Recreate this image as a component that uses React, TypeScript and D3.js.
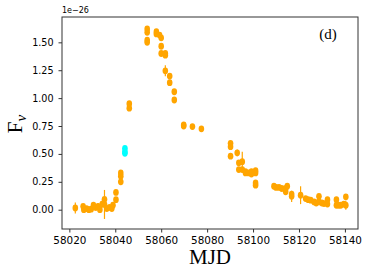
import React, { useEffect, useRef } from 'react';
import * as d3 from 'd3';

// orange points: MJD, flux (1e-26), error
const mjd = [
  58022.6, 58026.0, 58026.3, 58027.5, 58028.5, 58029.5, 58030.5, 58031.5, 58032.5, 58033.3,
  58034.3, 58035.3, 58035.3, 58036.3, 58037.5, 58038.5, 58039.0, 58040.3, 58040.3, 58042.4,
  58042.4, 58042.4, 58046.1, 58046.1, 58053.9, 58053.9, 58053.9, 58053.9, 58057.9, 58057.9,
  58059.3, 58060.0, 58060.0, 58060.0, 58061.8, 58061.8, 58061.8, 58063.7, 58063.7, 58065.7,
  58065.7, 58069.8, 58069.8, 58073.6, 58077.5, 58090.2, 58090.2, 58090.2, 58093.1, 58093.8,
  58093.8, 58095.3, 58095.3, 58096.7, 58096.7, 58098.0, 58099.3, 58099.3, 58101.1, 58101.1,
  58101.1, 58101.1, 58109.1, 58110.0, 58111.3, 58112.5, 58114.2, 58114.2, 58114.9, 58116.8,
  58116.8, 58120.7, 58122.9, 58124.0, 58125.1, 58126.6, 58127.5, 58128.7, 58128.7, 58130.0,
  58130.9, 58132.4, 58132.4, 58136.3, 58136.3, 58137.3, 58138.2, 58139.5, 58140.4, 58140.4
];
const flux = [
  0.015, 0.03, 0.0, 0.01, 0.0, 0.005, 0.04, 0.02, 0.03, 0.0,
  0.05, 0.047, 0.093, 0.01, 0.02, 0.01, 0.04, 0.155, 0.09, 0.33,
  0.30, 0.25, 0.95, 0.91, 1.62, 1.59, 1.52, 1.50, 1.595, 1.575,
  1.565, 1.54, 1.465, 1.40, 1.40, 1.385, 1.245, 1.198, 1.138, 1.057,
  0.983, 0.76, 0.75, 0.745, 0.725, 0.595, 0.565, 0.48, 0.51, 0.42,
  0.36, 0.43, 0.36, 0.34, 0.33, 0.33, 0.34, 0.32, 0.35, 0.33,
  0.24, 0.22, 0.21, 0.20, 0.20, 0.19, 0.19, 0.16, 0.21, 0.12,
  0.14, 0.13, 0.10, 0.09, 0.085, 0.07, 0.06, 0.12, 0.07, 0.06,
  0.055, 0.09, 0.05, 0.09, 0.04, 0.04, 0.04, 0.05, 0.115, 0.04
];
const err = [
  0.05, 0.02, 0.02, 0.02, 0.02, 0.02, 0.02, 0.03, 0.03, 0.03,
  0.03, 0.13, 0.02, 0.02, 0.02, 0.02, 0.02, 0.02, 0.02, 0.02,
  0.02, 0.02, 0.02, 0.02, 0.02, 0.02, 0.02, 0.02, 0.02, 0.02,
  0.02, 0.02, 0.02, 0.02, 0.02, 0.02, 0.05, 0.02, 0.02, 0.02,
  0.02, 0.02, 0.02, 0.02, 0.02, 0.02, 0.02, 0.02, 0.03, 0.02,
  0.02, 0.09, 0.02, 0.02, 0.02, 0.02, 0.02, 0.02, 0.02, 0.02,
  0.02, 0.02, 0.02, 0.02, 0.02, 0.02, 0.02, 0.02, 0.02, 0.05,
  0.02, 0.08, 0.02, 0.02, 0.02, 0.02, 0.02, 0.02, 0.02, 0.02,
  0.02, 0.02, 0.02, 0.02, 0.02, 0.02, 0.02, 0.02, 0.02, 0.04
];

// cyan points
const mjdCyan = [58044.2, 58044.2, 58044.2];
const fluxCyan = [0.55, 0.52, 0.505];
const errCyan = [0.02, 0.02, 0.02];

const xTicks = [58020, 58040, 58060, 58080, 58100, 58120, 58140];
const yTicks = [0.0, 0.25, 0.5, 0.75, 1.0, 1.25, 1.5];

const App = () => {
  const svgRef = useRef(null);

  useEffect(() => {
    const width = 369;
    const height = 277;
    const margin = { top: 17, right: 11, bottom: 48, left: 62 };
    const innerWidth = width - margin.left - margin.right;
    const innerHeight = height - margin.top - margin.bottom;

    const svg = d3.select(svgRef.current);
    svg.selectAll('*').remove();
    svg.attr('width', width).attr('height', height);

    const xScale = d3.scaleLinear().domain([58016.8, 58145.7]).range([0, innerWidth]);
    const yScale = d3.scaleLinear().domain([-0.173, 1.727]).range([innerHeight, 0]);

    const g = svg.append('g').attr('transform', `translate(${margin.left},${margin.top})`);

    const series = [
      { color: '#ffa500', pts: mjd.map((m, i) => ({ x: m, y: flux[i], e: err[i] })) },
      { color: '#00ffff', pts: mjdCyan.map((m, i) => ({ x: m, y: fluxCyan[i], e: errCyan[i] })) }
    ];

    series.forEach(s => {
      // error bars
      g.append('g')
        .selectAll('line')
        .data(s.pts)
        .enter()
        .append('line')
        .attr('x1', d => xScale(d.x))
        .attr('x2', d => xScale(d.x))
        .attr('y1', d => yScale(d.y - d.e))
        .attr('y2', d => yScale(d.y + d.e))
        .attr('stroke', s.color)
        .attr('stroke-width', 1.2);

      g.append('g')
        .selectAll('ellipse')
        .data(s.pts)
        .enter()
        .append('ellipse')
        .attr('cx', d => xScale(d.x))
        .attr('cy', d => yScale(d.y))
        .attr('rx', 2.8)
        .attr('ry', 3.4)
        .attr('fill', s.color);
    });

    const xAxis = d3.axisBottom(xScale).tickValues(xTicks).tickFormat(d3.format('d')).tickSizeOuter(0).tickSize(3.5);
    const yAxis = d3.axisLeft(yScale).tickValues(yTicks).tickFormat(d3.format('.2f')).tickSizeOuter(0).tickSize(3.5).tickPadding(5);

    const xg = g.append('g').attr('transform', `translate(0,${innerHeight})`).call(xAxis);
    xg.select('.domain').remove();
    xg.selectAll('text').attr('font-family', 'DejaVu Sans').attr('font-size', 10.4).attr('fill', '#000').attr('dy', '0.8em');
    xg.selectAll('line').attr('stroke', '#333');

    const yg = g.append('g').call(yAxis);
    yg.select('.domain').remove();
    yg.selectAll('text').attr('font-family', 'DejaVu Sans').attr('font-size', 9.6).attr('fill', '#000');
    yg.selectAll('line').attr('stroke', '#333');

    // frame
    g.append('rect')
      .attr('x', 0)
      .attr('y', 0)
      .attr('width', innerWidth)
      .attr('height', innerHeight)
      .attr('fill', 'none')
      .attr('stroke', '#333')
      .attr('stroke-width', 1);

    svg.append('text')
      .attr('x', margin.left)
      .attr('y', 13)
      .attr('font-family', 'DejaVu Sans')
      .attr('font-size', 8)
      .text('1e\u221226');

    svg.append('text')
      .attr('x', 328)
      .attr('y', 39)
      .attr('text-anchor', 'middle')
      .attr('font-family', 'Liberation Serif')
      .attr('font-size', 15)
      .text('(d)');

    svg.append('text')
      .attr('x', 210)
      .attr('y', 264)
      .attr('text-anchor', 'middle')
      .attr('font-family', 'Liberation Serif')
      .attr('font-size', 21)
      .text('MJD');

    const yl = svg.append('text')
      .attr('transform', 'translate(22,124) rotate(-90)')
      .attr('text-anchor', 'middle')
      .attr('font-family', 'Liberation Serif')
      .attr('font-size', 21);
    yl.append('tspan').text('F');
    yl.append('tspan').attr('font-size', 15).attr('dy', 4).attr('font-style', 'italic').text('\u03bd');
  }, []);

  return (
    <div>
      <svg ref={svgRef} style={{ position: 'absolute', left: 0, top: 0 }}></svg>
    </div>
  );
};

export default App;
